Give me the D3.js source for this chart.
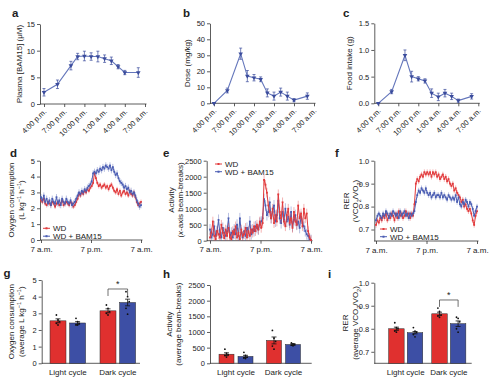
<!DOCTYPE html>
<html><head><meta charset="utf-8">
<script src="https://cdn.jsdelivr.net/npm/d3@7"></script>
<style>
html,body{margin:0;padding:0;background:#fff;overflow:hidden}
text{font-family:"Liberation Sans",Arial,Helvetica,sans-serif;fill:#222}
</style>
</head><body>
<svg id="c" width="494" height="386"></svg>
<script>
// ---------------- DATA ----------------
const doseTickHours=[0,3,6,9,12,15];
const doseTickLabels=["4:00 p.m.","7:00 p.m.","10:00 p.m.","1:00 a.m.","4:00 a.m.","7:00 a.m."];
const sampleHours=[0,2,4,5,6,7,8,9,10,11,12,14];
const plasmaConc=[2.2,3.7,7.2,8.9,9.0,8.9,8.9,8.5,8.1,7.0,5.9,5.9];
const plasmaErr=[0.7,0.8,0.8,0.6,0.9,0.7,1.0,0.7,0.7,0.4,0.4,0.9];
const doseMgKg=[0,8,31,17,16,15,6.5,4.5,7,4.5,2,4.5];
const doseErr=[0.5,1.5,3.5,3.5,2,1.5,2.5,2.5,2.5,2.5,1,2];
const foodIntake=[0,0.22,0.9,0.5,0.46,0.42,0.19,0.12,0.19,0.13,0.05,0.13];
const foodErr=[0.01,0.04,0.1,0.1,0.04,0.04,0.08,0.07,0.07,0.06,0.03,0.05];

const seriesNames=["WD","WD + BAM15"];
const clockTicks=[0,12,24];
const clockLabels=["7 a.m.","7 p.m.","7 a.m."];

const vo2WD=[2.5,2.4,2.6,2.3,2.2,2.4, 2.3,2.2,2.4,2.3,2.1,2.3, 2.4,2.2,2.3,2.5,2.2,2.3,
 2.4,2.3,2.2,2.4,2.3,2.1, 2.2,2.4,2.6,2.9,2.8,3.0, 2.9,3.1,3.0,3.2,3.1,3.3,
 3.4,3.6,4.2,3.9,3.6,3.4, 3.5,3.3,3.4,3.5,3.3,3.4, 3.2,3.4,3.5,3.3,3.1,3.0,
 3.2,2.9,3.1,2.8,3.0,3.1, 2.9,3.0,2.8,3.1,2.9,2.8, 3.0,2.7,2.4,2.2,2.3,2.4];
const vo2BAM=[2.7,2.5,2.8,2.4,2.6,2.3, 2.5,2.2,2.6,2.4,2.3,2.7, 2.3,2.5,2.2,2.6,2.4,2.3,
 2.6,2.4,2.3,2.5,2.2,2.3, 2.4,2.6,2.8,3.0,2.9,3.1, 3.0,3.2,3.1,3.3,3.4,3.5,
 3.7,4.2,4.3,4.2,4.4,4.3, 4.5,4.4,4.6,4.5,4.7,4.6, 4.5,4.7,4.4,4.6,4.3,4.1,
 4.2,3.9,3.7,3.6,3.5,3.3, 3.4,3.2,3.3,3.0,3.1,2.9, 3.0,2.8,2.5,2.3,2.1,2.2];
const vo2Err=[0.15,0.2];

const actWD=[100,250,600,150,50,300, 200,100,500,250,80,350, 150,400,100,50,300,200,
 450,100,250,50,350,150, 200,400,100,300,150,350, 250,450,300,500,350,600,
 400,550,1900,1750,1500,1100, 900,700,1000,550,800,600, 1450,900,700,1200,600,450,
 800,1000,550,700,400,900, 600,500,1100,700,850,450, 1000,700,850,300,100,20];
const actBAM=[350,100,200,450,150,300, 650,200,100,400,250,150, 300,700,150,250,100,350,
 200,500,150,700,250,100, 300,150,400,250,600,200, 350,300,450,400,350,550,
 600,700,1300,1100,800,900, 1200,700,900,1100,600,800, 1250,700,550,900,650,1000,
 600,750,500,900,450,650, 800,500,600,400,750,550, 450,300,200,150,50,20];
const actErr=[150,170];

const rerWD=[0.72,0.74,0.73,0.75,0.74,0.76, 0.75,0.77,0.74,0.76,0.75,0.77, 0.76,0.74,0.77,0.75,0.78,0.76,
 0.77,0.75,0.76,0.78,0.76,0.77, 0.75,0.77,0.76,0.81,0.90,0.92, 0.91,0.93,0.94,0.93,0.95,0.94,
 0.95,0.94,0.95,0.93,0.95,0.94, 0.95,0.93,0.94,0.92,0.93,0.94, 0.92,0.93,0.91,0.92,0.90,0.89,
 0.90,0.87,0.88,0.86,0.85,0.84, 0.82,0.83,0.80,0.81,0.79,0.78, 0.79,0.77,0.74,0.72,0.76,0.78];
const rerBAM=[0.74,0.76,0.77,0.76,0.75,0.77, 0.76,0.78,0.77,0.75,0.77,0.76, 0.78,0.77,0.76,0.77,0.75,0.78,
 0.76,0.77,0.78,0.76,0.77,0.75, 0.77,0.76,0.77,0.78,0.82,0.85, 0.87,0.86,0.88,0.87,0.86,0.88,
 0.86,0.85,0.86,0.84,0.85,0.86, 0.84,0.85,0.85,0.84,0.86,0.84, 0.85,0.84,0.83,0.85,0.84,0.83,
 0.84,0.83,0.85,0.82,0.84,0.81, 0.80,0.82,0.81,0.83,0.82,0.80, 0.82,0.81,0.79,0.76,0.78,0.80];
const rerErr=[0.012,0.012];

const cycles=["Light cycle","Dark cycle"];
const vo2MeanWD=[2.55,3.15], vo2MeanBAM=[2.42,3.65];
const vo2SemWD=[0.12,0.12], vo2SemBAM=[0.08,0.2];
const vo2DotsWD=[[2.9,2.6,2.5,2.4,2.3],[3.5,3.3,3.1,3.0,2.9]];
const vo2DotsBAM=[[2.7,2.5,2.4,2.3,2.3],[4.3,4.0,3.7,3.3,2.95]];
const actMeanWD=[290,730], actMeanBAM=[220,600];
const actSemWD=[45,110], actSemBAM=[35,25];
const actDotsWD=[[450,320,280,250,200],[1050,800,700,550,450]];
const actDotsBAM=[[350,250,200,170,150],[650,620,600,580,560]];
const rerMeanWD=[0.800,0.865], rerMeanBAM=[0.783,0.822];
const rerSemWD=[0.007,0.007], rerSemBAM=[0.005,0.012];
const rerDotsWD=[[0.826,0.805,0.80,0.79,0.785],[0.89,0.875,0.86,0.855,0.85]];
const rerDotsBAM=[[0.805,0.79,0.785,0.775,0.765],[0.85,0.845,0.83,0.80,0.785]];

// ---------------- DRAWING ----------------
const FONT='"Liberation Sans", Arial, Helvetica, sans-serif';
const RED="#e0302f", BLUE="#3d4fa5", LRED="#e23a3c", LBLUE="#4a5db3";
const DOSELINE="#6476bb", DOSEMARK="#3a4b9c";
const svg=d3.select("#c");

function styleAxis(g,fs){
  g.attr("font-family",FONT).attr("font-size",fs||7.5);
  g.selectAll(".domain").attr("stroke","#333").attr("stroke-width",0.8);
  g.selectAll(".tick line").attr("stroke","#333").attr("stroke-width",0.8);
  g.selectAll("text").attr("fill","#222");
}
function letter(t,x,y){
  svg.append("text").attr("x",x).attr("y",y).attr("font-size",11.5).attr("font-weight","bold")
    .attr("fill","#111").text(t);
}
function rotLabel(x,yc,parts){
  const t=svg.append("text").attr("transform",`translate(${x},${yc}) rotate(-90)`)
    .attr("text-anchor","middle").attr("font-size",8);
  parts.forEach(p=>{
    const s=t.append("tspan").text(p[0]);
    if(p[1]==="sup") s.attr("baseline-shift","super").attr("font-size",5.5);
    if(p[1]==="sub") s.attr("baseline-shift","sub").attr("font-size",5.5);
    if(p[1]==="it") s.attr("font-style","italic");
  });
}

// ---- Panels a-c ----
function dosePanel(o){
  const x=d3.scaleLinear().domain([0,15]).range(o.xr);
  const y=d3.scaleLinear().domain(o.domain).range(o.yr);
  const g=svg.append("g");
  const ya=g.append("g").attr("transform",`translate(${o.ax},0)`)
    .call(d3.axisLeft(y).tickValues(o.ticks).tickFormat(o.fmt).tickSize(3).tickSizeOuter(0).tickPadding(2));
  styleAxis(ya);
  const xa=g.append("g").attr("transform",`translate(0,${o.yr[0]})`)
    .call(d3.axisBottom(x).tickValues(doseTickHours).tickFormat(d=>doseTickLabels[doseTickHours.indexOf(d)]).tickSize(3).tickSizeOuter(0));
  styleAxis(xa,7.5);
  xa.select(".domain").remove();
  xa.append("line").attr("x1",o.ax).attr("x2",o.xr[1]+1.5).attr("stroke","#333").attr("stroke-width",0.8);
  xa.selectAll(".tick text").attr("text-anchor","end").attr("x",0).attr("y",0).attr("dy",0)
    .attr("transform","translate(2.5,8) rotate(-45)");
  const vals=o.values;
  const eb=g.append("g").attr("stroke",DOSEMARK).attr("stroke-width",0.7);
  vals.forEach((v,i)=>{
    const cx=x(sampleHours[i]), y1=y(Math.max(o.domain[0],v-o.errs[i])), y2=y(v+o.errs[i]);
    eb.append("line").attr("x1",cx).attr("x2",cx).attr("y1",y1).attr("y2",y2);
    eb.append("line").attr("x1",cx-1.5).attr("x2",cx+1.5).attr("y1",y1).attr("y2",y1);
    eb.append("line").attr("x1",cx-1.5).attr("x2",cx+1.5).attr("y1",y2).attr("y2",y2);
  });
  g.append("path").datum(vals).attr("fill","none").attr("stroke",DOSELINE).attr("stroke-width",1.1)
    .attr("d",d3.line().x((d,i)=>x(sampleHours[i])).y(d=>y(d)));
  g.selectAll(null).data(vals).join("path")
    .attr("transform",(d,i)=>`translate(${x(sampleHours[i])},${y(d)}) rotate(180)`)
    .attr("d",d3.symbol(d3.symbolTriangle,9)).attr("fill",DOSEMARK);
  rotLabel(o.lx,(o.yr[0]+o.yr[1])/2,o.label);
}
dosePanel({ax:40,xr:[44,145],yr:[104,24],domain:[0,15],ticks:[0,5,10,15],fmt:d3.format("d"),
  values:plasmaConc,errs:plasmaErr,lx:22,label:[["Plasma [BAM15] (μM)"]]});
dosePanel({ax:210,xr:[214,314],yr:[103.3,23.3],domain:[0,50],ticks:[0,10,20,30,40,50],fmt:d3.format("d"),
  values:doseMgKg,errs:doseErr,lx:190,label:[["Dose (mg/kg)"]]});
dosePanel({ax:374.3,xr:[378.3,478.3],yr:[103.3,23.3],domain:[0,1.5],ticks:[0,0.5,1,1.5],fmt:d3.format(".1f"),
  values:foodIntake,errs:foodErr,lx:352,label:[["Food intake (g)"]]});

// ---- Panels d-f ----
function tsPanel(o){
  const x=d3.scaleLinear().domain([0,24]).range(o.xr);
  const y=d3.scaleLinear().domain(o.domain).range(o.yr);
  const g=svg.append("g");
  const ya=g.append("g").attr("transform",`translate(${o.ax},0)`)
    .call(d3.axisLeft(y).tickValues(o.ticks).tickFormat(o.fmt).tickSize(3).tickSizeOuter(0).tickPadding(2));
  styleAxis(ya);
  const xa=g.append("g").attr("transform",`translate(0,${o.yr[0]})`)
    .call(d3.axisBottom(x).tickValues(clockTicks).tickFormat(d=>clockLabels[clockTicks.indexOf(d)]).tickSize(3).tickSizeOuter(0).tickPadding(3));
  styleAxis(xa,8);
  xa.select(".domain").remove();
  xa.append("line").attr("x1",o.ax).attr("x2",o.xr[1]+1.5).attr("stroke","#333").attr("stroke-width",0.8);
  const series=[[o.wd,LRED,o.err[0]],[o.bam,LBLUE,o.err[1]]];
  const order=o.redOnTop?[1,0]:[0,1];
  order.forEach(k=>{
    const [vals,col,err]=series[k];
    const n=vals.length, hx=i=>x(i*24/(n-1));
    const sg=g.append("g");
    sg.append("g").attr("stroke",col).attr("stroke-width",0.6).attr("stroke-opacity",0.65)
      .selectAll("line").data(vals).join("line")
      .attr("x1",(d,i)=>hx(i)).attr("x2",(d,i)=>hx(i))
      .attr("y1",d=>y(Math.max(o.domain[0],d-err))).attr("y2",d=>y(d+err));
    sg.append("path").datum(vals).attr("fill","none").attr("stroke",col).attr("stroke-width",1)
      .attr("d",d3.line().x((d,i)=>hx(i)).y(d=>y(d)));
    sg.selectAll("rect").data(vals).join("rect")
      .attr("x",(d,i)=>hx(i)-0.9).attr("y",d=>y(d)-0.9).attr("width",1.8).attr("height",1.8).attr("fill",col);
  });
  const lg=g.append("g").attr("font-size",8);
  seriesNames.forEach((nm,k)=>{
    const ly=o.legY[k], col=k===0?LRED:LBLUE;
    lg.append("line").attr("x1",o.legX).attr("x2",o.legX+7).attr("y1",ly).attr("y2",ly).attr("stroke",col).attr("stroke-width",1);
    lg.append("rect").attr("x",o.legX+2.5).attr("y",ly-1).attr("width",2).attr("height",2).attr("fill",col);
    lg.append("text").attr("x",o.legX+10).attr("y",ly+2.9).text(nm);
  });
  rotLabel(o.lx[0],o.lyc,o.label[0]);
  rotLabel(o.lx[1],o.lyc,o.label[1]);
}
tsPanel({ax:40,xr:[41,141],yr:[240,160.7],domain:[0,5],ticks:[0,1,2,3,4,5],fmt:d3.format("d"),
  wd:vo2WD,bam:vo2BAM,err:vo2Err,legX:43,legY:[228.3,236.2],lx:[14,24],lyc:200,
  label:[[["Oxygen consumption"]],[["(L kg"],["−1","sup"],[" h"],["−1","sup"],[")"]]]});
tsPanel({ax:206.7,xr:[210,311],yr:[240.7,160.7],domain:[0,2500],ticks:[0,500,1000,1500,2000,2500],fmt:d3.format("d"),
  wd:actWD,bam:actBAM,err:actErr,legX:215,legY:[164,171.7],lx:[173.5,182.5],lyc:200,redOnTop:true,
  label:[[["Activity"]],[["("],["x","it"],["-axis beam-breaks)"]]]});
tsPanel({ax:374.3,xr:[376,477],yr:[241,160.7],domain:[0.65,1.0],ticks:[0.7,0.8,0.9,1.0],fmt:d3.format(".1f"),
  wd:rerWD,bam:rerBAM,err:rerErr,legX:380,legY:[229,236.7],lx:[349,358],lyc:201,
  label:[[["RER"]],[["(VCO"],["2","sub"],["/VO"],["2","sub"],[")"]]]});

// ---- Panels g-i ----
function barPanel(o){
  const gx=d3.scalePoint().domain(cycles).range(o.gr);
  const sx=d3.scalePoint().domain(seriesNames).range([-o.off,o.off]);
  const y=d3.scaleLinear().domain(o.domain).range([o.base,o.top]);
  const g=svg.append("g");
  const ya=g.append("g").attr("transform",`translate(${o.ax},0)`)
    .call(d3.axisLeft(y).tickValues(o.ticks).tickFormat(o.fmt).tickSize(3).tickSizeOuter(0).tickPadding(2));
  styleAxis(ya);
  g.append("line").attr("x1",o.ax).attr("x2",o.xend).attr("y1",o.base).attr("y2",o.base).attr("stroke","#333").attr("stroke-width",0.8);
  const sets=[[o.meanWD,o.semWD,o.dotsWD,RED],[o.meanBAM,o.semBAM,o.dotsBAM,BLUE]];
  sets.forEach((s,k)=>{
    const [means,sems,dots,col]=s;
    cycles.forEach((c,ci)=>{
      const cx=gx(c)+sx(seriesNames[k]);
      g.append("rect").attr("x",cx-o.bw/2).attr("width",o.bw).attr("y",y(means[ci])).attr("height",o.base-y(means[ci]))
        .attr("fill",col).attr("stroke","#2a2a2a").attr("stroke-width",0.5);
      const y1=y(means[ci]-sems[ci]), y2=y(means[ci]+sems[ci]);
      g.append("line").attr("x1",cx).attr("x2",cx).attr("y1",y1).attr("y2",y2).attr("stroke","#111").attr("stroke-width",0.8);
      [y1,y2].forEach(yy=>g.append("line").attr("x1",cx-2.5).attr("x2",cx+2.5).attr("y1",yy).attr("y2",yy).attr("stroke","#111").attr("stroke-width",0.8));
      g.selectAll(null).data(dots[ci]).join("circle")
        .attr("cx",(d,j)=>cx+((j%3)-1)*1.6).attr("cy",d=>y(d)).attr("r",0.9).attr("fill","#111");
    });
    g.append("text").attr("x",gx(cycles[k])).attr("y",o.base+11.5).attr("text-anchor","middle").attr("font-size",8).text(cycles[k]);
  });
  if(o.bracket){
    const xa=gx(cycles[1])+sx(seriesNames[0]), xb=gx(cycles[1])+sx(seriesNames[1]);
    const yt=y(o.bracket[0]), yl=y(o.bracket[1]);
    g.append("path").attr("d",`M${xa},${yl}V${yt}H${xb}V${yl}`).attr("fill","none").attr("stroke","#333").attr("stroke-width",0.7);
    g.append("text").attr("x",(xa+xb)/2).attr("y",yt-1.5).attr("text-anchor","middle").attr("font-size",9).text("*");
  }
  rotLabel(o.lx[0],(o.base+o.top)/2,o.label[0]);
  rotLabel(o.lx[1],(o.base+o.top)/2,o.label[1]);
}
barPanel({ax:41.7,xend:140,base:363.3,top:280,domain:[0,5],ticks:[0,1,2,3,4,5],fmt:d3.format("d"),
  gr:[67.8,117.8],off:9.8,bw:16,meanWD:vo2MeanWD,meanBAM:vo2MeanBAM,semWD:vo2SemWD,semBAM:vo2SemBAM,
  dotsWD:vo2DotsWD,dotsBAM:vo2DotsBAM,bracket:[4.46,4.04],lx:[14,24],
  label:[[["Oxygen consumption"]],[["(average L kg"],["−1","sup"],[" h"],["−1","sup"],[")"]]]});
barPanel({ax:210,xend:311.7,base:363.3,top:285,domain:[0,2500],ticks:[0,500,1000,1500,2000,2500],fmt:d3.format("d"),
  gr:[236,283.5],off:9.5,bw:15,meanWD:actMeanWD,meanBAM:actMeanBAM,semWD:actSemWD,semBAM:actSemBAM,
  dotsWD:actDotsWD,dotsBAM:actDotsBAM,lx:[172,181],
  label:[[["Activity"]],[["(average beam-breaks)"]]]});
barPanel({ax:374.3,xend:471.7,base:363.3,top:282.7,domain:[0.65,1.0],ticks:[0.7,0.8,0.9,1.0],fmt:d3.format(".1f"),
  gr:[405.7,448.8],off:9.3,bw:15.5,meanWD:rerMeanWD,meanBAM:rerMeanBAM,semWD:rerSemWD,semBAM:rerSemBAM,
  dotsWD:rerDotsWD,dotsBAM:rerDotsBAM,bracket:[0.925,0.895],lx:[348,357.5],
  label:[[["RER"]],[["(average VCO"],["2","sub"],["/VO"],["2","sub"],[")"]]]});

// ---- panel letters ----
letter("a",12,16.5); letter("b",183,16.7); letter("c",343,16.7);
letter("d",10,157.3); letter("e",163,156.7); letter("f",335,157);
letter("g",3.5,276.5); letter("h",163,278); letter("i",328,278);
</script>
</body></html>
